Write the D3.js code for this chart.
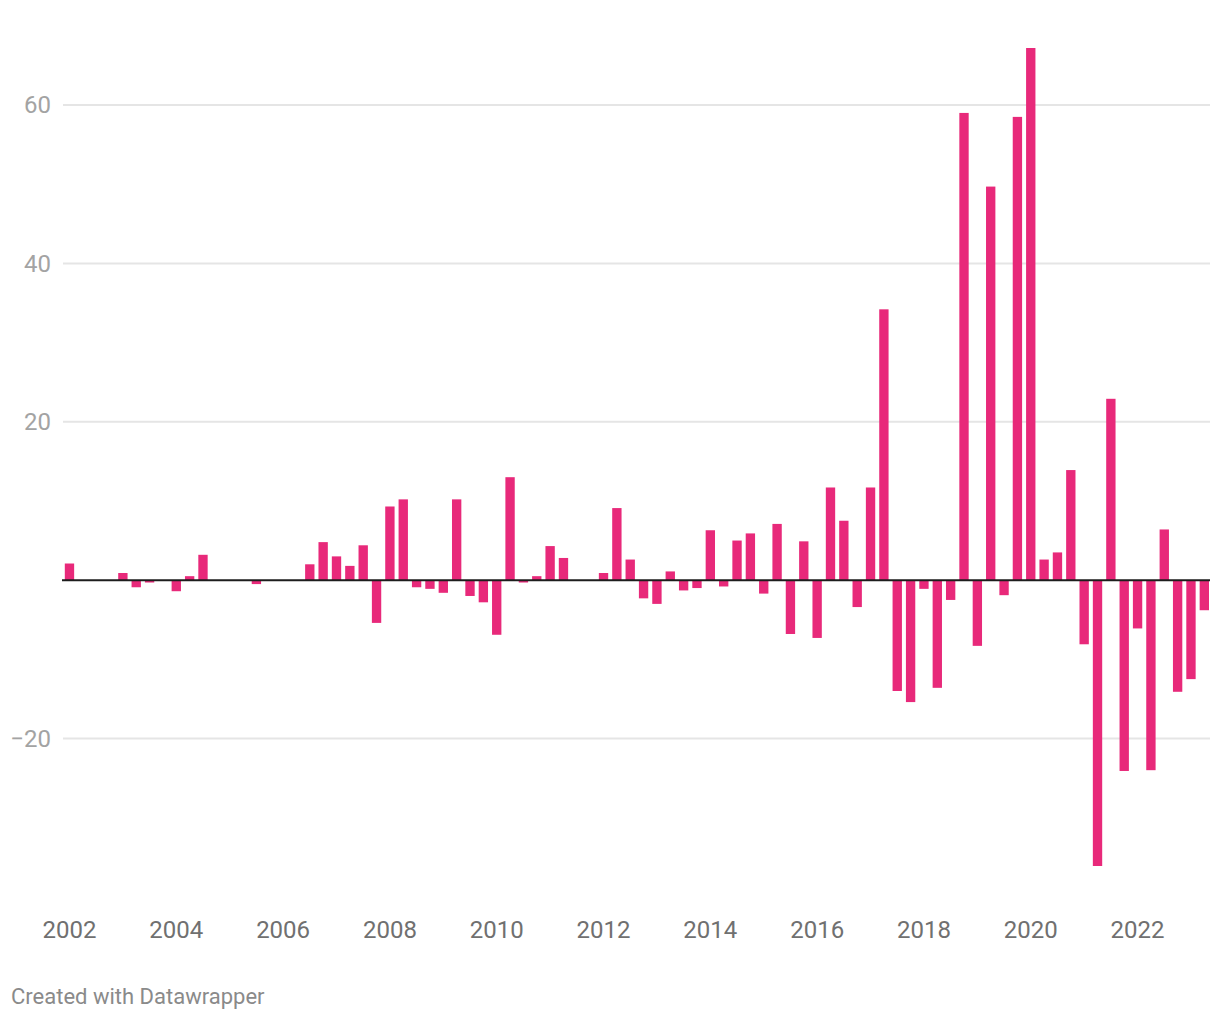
<!DOCTYPE html>
<html>
<head>
<meta charset="utf-8">
<script src="https://cdn.jsdelivr.net/npm/d3@7"></script>
<style>
  body { margin: 0; background: #ffffff; font-family: Roboto, "Noto Sans", sans-serif; }
  .grid line { stroke: #e5e5e5; stroke-width: 2px; }
  .yLabel { fill: #a3a3a3; font-size: 24px; }
  .xAxis text { fill: #707070; font-size: 24px; font-family: Roboto, sans-serif; }
  .credit { fill: #8a8a8a; font-size: 22px; }
</style>
</head>
<body>
<div id="chart"></div>
<script>
// quarterly values, one row per year (Q1..Q4), starting 2002
var years = [2002, 2003, 2004, 2005, 2006, 2007, 2008, 2009, 2010, 2011, 2012,
  2013, 2014, 2015, 2016, 2017, 2018, 2019, 2020, 2021, 2022, 2023];
var quarterNames = ["Q1", "Q2", "Q3", "Q4"];
var values = [
  2.1, 0, 0, 0,
  0.9, -0.9, -0.3, 0,
  -1.4, 0.5, 3.2, 0,
  0, 0, -0.5, 0,
  0, 0, 2.0, 4.8,
  3.0, 1.8, 4.4, -5.4,
  9.3, 10.2, -0.9, -1.1,
  -1.6, 10.2, -2.0, -2.8,
  -6.9, 13.0, -0.3, 0.5,
  4.3, 2.8, 0, 0,
  0.9, 9.1, 2.6, -2.3,
  -3.0, 1.1, -1.3, -1.0,
  6.3, -0.8, 5.0, 5.9,
  -1.7, 7.1, -6.8, 4.9,
  -7.3, 11.7, 7.5, -3.4,
  11.7, 34.2, -14.0, -15.4,
  -1.1, -13.6, -2.5, 59.0,
  -8.3, 49.7, -1.9, 58.5,
  67.2, 2.6, 3.5, 13.9,
  -8.1, -36.1, 22.9, -24.1,
  -6.1, -24.0, 6.4, -14.1,
  -12.5, -3.8
];
var yTicks = [-20, 20, 40, 60];
var xTickYears = [2002, 2004, 2006, 2008, 2010, 2012, 2014, 2016, 2018, 2020, 2022];

// build the rows
var data = values.map(function(v, i) {
  return {
    key: years[Math.floor(i / 4)] + " " + quarterNames[i % 4],
    value: v
  };
});

var svgWidth = 1220;
var svgHeight = 1020;

var svg = d3.select("#chart")
  .append("svg")
  .attr("width", svgWidth)
  .attr("height", svgHeight);

// scales
var xBandScale = d3.scaleBand()
  .domain(data.map(d => d.key))
  .range([62.8, 1211])
  .paddingInner(0.3)
  .paddingOuter(0.15);

var yLinearScale = d3.scaleLinear()
  .domain([d3.min(values), d3.max(values)])
  .range([866, 48]);

// gridlines
var grid = svg.append("g").attr("class", "grid");
grid.selectAll("line")
  .data(yTicks)
  .enter()
  .append("line")
  .attr("x1", 63)
  .attr("x2", 1210)
  .attr("y1", d => yLinearScale(d))
  .attr("y2", d => yLinearScale(d));

// y labels
svg.selectAll(".yLabel")
  .data(yTicks)
  .enter()
  .append("text")
  .attr("class", "yLabel")
  .attr("x", 51)
  .attr("y", d => yLinearScale(d))
  .attr("dy", "0.35em")
  .attr("text-anchor", "end")
  .text(d => d < 0 ? "\u2212" + Math.abs(d) : d);

// bars
svg.selectAll(".bar")
  .data(data.filter(d => d.value !== 0))
  .enter()
  .append("rect")
  .attr("class", "bar")
  .attr("x", d => xBandScale(d.key))
  .attr("width", xBandScale.bandwidth())
  .attr("y", d => yLinearScale(Math.max(0, d.value)))
  .attr("height", d => Math.abs(yLinearScale(d.value) - yLinearScale(0)))
  .attr("fill", "#e8297a");

// zero baseline
svg.append("line")
  .attr("x1", 62)
  .attr("x2", 1210)
  .attr("y1", yLinearScale(0))
  .attr("y2", yLinearScale(0))
  .attr("stroke", "#1d1d1d")
  .attr("stroke-width", 2);

// x axis, labels only
var xAxis = d3.axisBottom(xBandScale)
  .tickValues(xTickYears.map(y => y + " Q1"))
  .tickFormat(d => d.slice(0, 4))
  .tickSize(0)
  .tickPadding(0);

var xAxisGroup = svg.append("g")
  .attr("class", "xAxis")
  .attr("transform", "translate(0, 920)")
  .call(xAxis);
xAxisGroup.select(".domain").remove();
xAxisGroup.selectAll("text").attr("dy", "0.75em");

// credit
svg.append("text")
  .attr("class", "credit")
  .attr("x", 11)
  .attr("y", 1004)
  .text("Created with Datawrapper");
</script>
</body>
</html>
